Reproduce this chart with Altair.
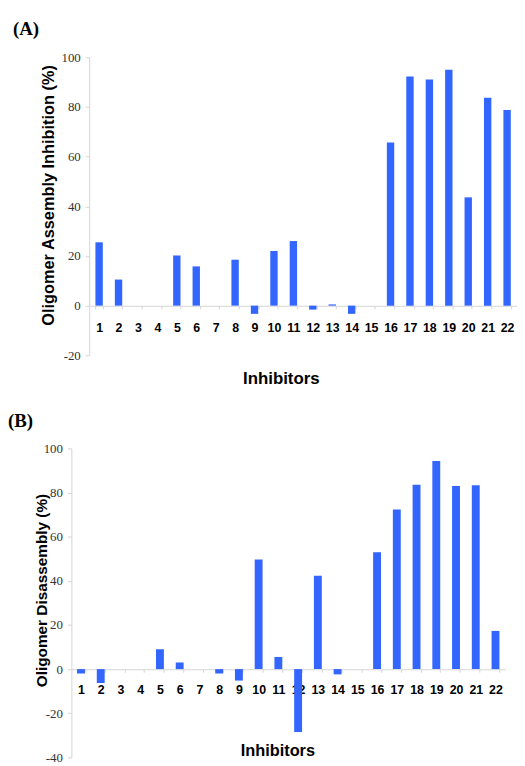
import altair as alt
import pandas as pd

inhibitors = [str(i) for i in range(1, 23)]
assembly_inhibition = [25.5, 10.5, 0, 0, 20.2, 15.8, 0, 18.5, -3.3, 22.0, 26.0, -1.6,
                       0.5, -3.3, 0, 65.7, 92.3, 91.0, 95.0, 43.6, 83.7, 78.8]
disassembly = [-2.0, -6.3, 0, 0, 9.0, 3.0, 0, -2.0, -5.2, 49.7, 5.5, -28.5,
               42.3, -2.4, 0, 53.0, 72.3, 83.5, 94.3, 83.0, 83.3, 17.3]
ticks_a = [-20, 0, 20, 40, 60, 80, 100]
ticks_b = [-40, -20, 0, 20, 40, 60, 80, 100]

df_a = pd.DataFrame({"Inhibitor": inhibitors, "value": assembly_inhibition})
df_b = pd.DataFrame({"Inhibitor": inhibitors, "value": disassembly})

BLUE = "#3366ff"
LINE = "#d4d4d4"
SERIF = "Liberation Serif"
SANS = "Liberation Sans"


def panel(df, label, label_dx, ytitle, ytitle_size, width, height, xrange, pin, pout,
          ydomain, yticks, yoffset, xoffset, ytx, yty, xtx, xty, xtitle_size, lpad):
    if xrange is not None:
        xscale = alt.Scale(paddingInner=pin, paddingOuter=pout, range=xrange)
    else:
        xscale = alt.Scale(paddingInner=pin, paddingOuter=pout)
    return alt.Chart(df).mark_bar(color=BLUE).encode(
        x=alt.X("Inhibitor:N", sort=inhibitors, scale=xscale,
                axis=alt.Axis(title="Inhibitors", labelAngle=0, labelFont=SANS,
                              labelFontWeight="bold", labelFontSize=12.5, labelColor="#000",
                              tickSize=3, tickColor=LINE, domainColor=LINE, tickBand="extent",
                              labelPadding=lpad, offset=xoffset,
                              titleFont=SANS, titleFontWeight="bold", titleFontSize=xtitle_size,
                              titleColor="#000", titleX=xtx, titleY=xty, titleAlign="center",
                              titleBaseline="top")),
        y=alt.Y("value:Q", scale=alt.Scale(domain=ydomain, nice=False, zero=False),
                axis=alt.Axis(title=ytitle, values=yticks, grid=False, labelFont=SERIF,
                              labelExpr="'' + datum.value",
                              labelFontSize=13, labelColor="#333", tickSize=4, tickColor=LINE,
                              domainColor=LINE, labelPadding=5, offset=yoffset,
                              titleFont=SANS, titleFontWeight="bold", titleFontSize=ytitle_size,
                              titleColor="#000", titleAngle=270, titleX=ytx, titleY=yty,
                              titleAlign="center", titleBaseline="middle")),
    ).properties(
        width=width, height=height,
        title=alt.TitleParams(label, anchor="start", frame="group", font=SERIF, fontSize=19,
                              fontWeight="bold", color="#000", dx=label_dx, offset=12),
    )


chart_a = panel(df_a, "(A)", -59, "Oligomer Assembly Inhibition (%)", 16.5,
                450, 301, [18, 450], 0.62, 0.32, [-20, 100], ticks_a, -18, -50,
                -41, 139, 211.5, 65.5, 17, 13)
chart_b = panel(df_b, "(B)", -64, "Oligomer Disassembly (%)", 15.5,
                438, 312, None, 0.6, 0.287, [-40, 100], ticks_b, 0, -89,
                -30.5, 143, 208, 74.5, 16.5, 12)

chart = alt.vconcat(chart_a, chart_b, spacing=25).properties(
    padding={"left": 0, "top": 9, "right": 0, "bottom": 0}
).configure_view(stroke=None)

chart.save("out.html", embed_options={"renderer": "svg", "actions": False})
